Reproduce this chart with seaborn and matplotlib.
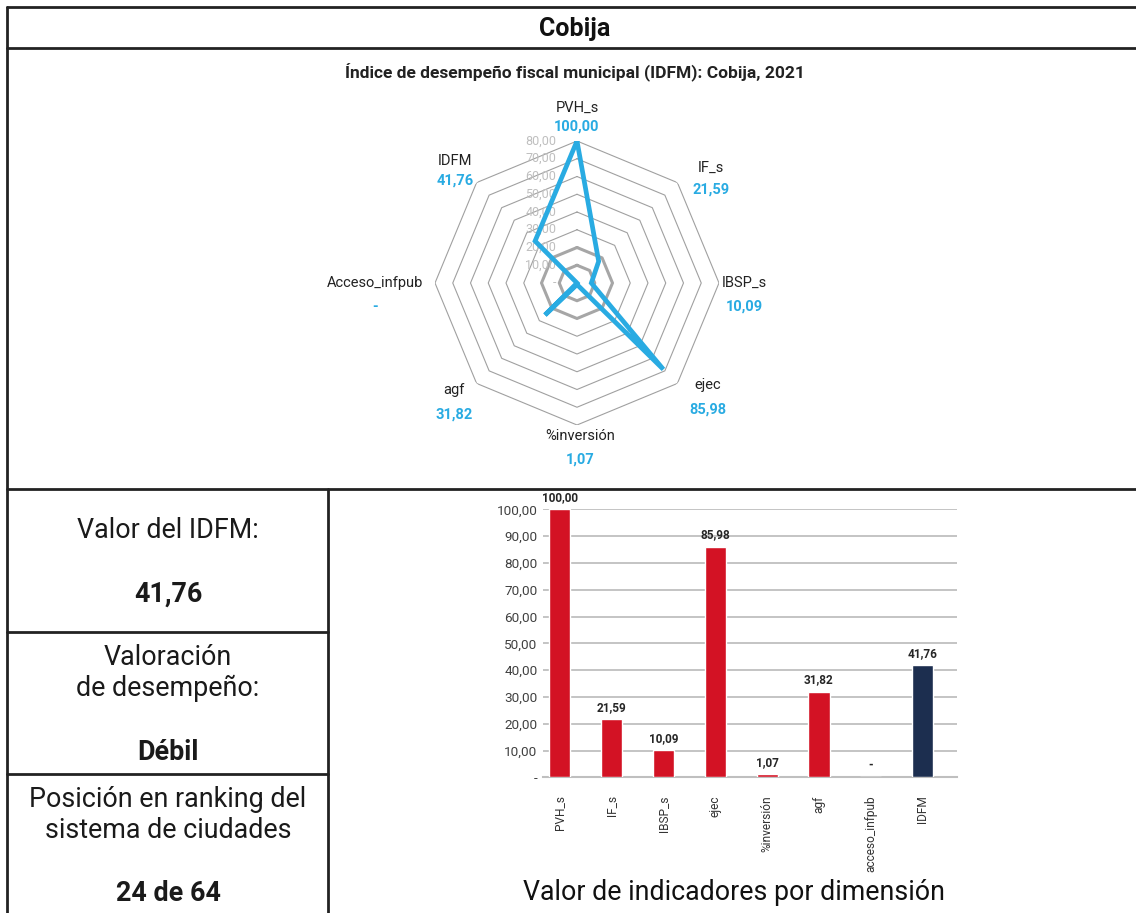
import numpy as np
import pandas as pd
import matplotlib
matplotlib.use("Agg")
import matplotlib.pyplot as plt
import matplotlib.transforms as mtransforms
import seaborn as sns

# ---------------- data ----------------
title = "Cobija"
radar_title = "Índice de desempeño fiscal municipal (IDFM): Cobija, 2021"
radar_categories = ["PVH_s", "IF_s", "IBSP_s", "ejec", "%inversión", "agf", "Acceso_infpub", "IDFM"]
radar_values = [100.00, 21.59, 10.09, 85.98, 1.07, 31.82, 0.0, 41.76]
radar_value_labels = ["100,00", "21,59", "10,09", "85,98", "1,07", "31,82", "-", "41,76"]
ring_labels = ["-", "10,00", "20,00", "30,00", "40,00", "50,00", "60,00", "70,00", "80,00"]

bar_categories = ["PVH_s", "IF_s", "IBSP_s", "ejec", "%inversión", "agf", "acceso_infpub", "IDFM"]
bar_values = [100.00, 21.59, 10.09, 85.98, 1.07, 31.82, 0.0, 41.76]
bar_value_labels = ["100,00", "21,59", "10,09", "85,98", "1,07", "31,82", "-", "41,76"]
bar_groups = ["dim", "dim", "dim", "dim", "dim", "dim", "dim", "idx"]
y_ticks = [0, 10, 20, 30, 40, 50, 60, 70, 80, 90, 100]
y_tick_labels = ["-", "10,00", "20,00", "30,00", "40,00", "50,00", "60,00", "70,00", "80,00", "90,00", "100,00"]
bar_title = "Valor de indicadores por dimensión"

idfm_label = "Valor del IDFM:"
idfm_value = "41,76"
rating_label = "Valoración\nde desempeño:"
rating_value = "Débil"
rank_label = "Posición en ranking del\nsistema de ciudades"
rank_value = "24 de 64"

# ---------------- style ----------------
sns.set_theme(style="white")
plt.rcParams["font.family"] = ["Roboto", "DejaVu Sans"]

W, H = 1136, 913
fig = plt.figure(figsize=(W / 100, H / 100), dpi=100)
fig.patch.set_facecolor("white")

def fx(px):
    return px / W

def fy(py):
    return 1 - py / H

BLUE = "#29ABE2"
RED = "#D31224"
NAVY = "#1C2E4F"
LINE = "#222222"

# ---------------- table borders ----------------
lw = 2.0
def hline(x0, x1, y):
    fig.add_artist(plt.Line2D([fx(x0), fx(x1)], [fy(y), fy(y)], color=LINE, lw=lw, transform=fig.transFigure))
def vline(x, y0, y1):
    fig.add_artist(plt.Line2D([fx(x), fx(x)], [fy(y0), fy(y1)], color=LINE, lw=lw, transform=fig.transFigure))

hline(7, W, 7)
hline(7, W, 48.5)
hline(7, W, 489)
hline(7, 328, 632)
hline(7, 328, 774)
vline(7, 7, H)
vline(328, 489, H)

# ---------------- titles ----------------
fig.text(fx(575), fy(29), title, ha="center", va="center", fontsize=18, fontweight="bold", color="#111111")
fig.text(fx(575), fy(73), radar_title, ha="center", va="center", fontsize=12.5, fontweight="bold", color="#222222")

# ---------------- radar ----------------
cx, cy, R = 577, 283, 142
rax = fig.add_axes([fx(cx - R), fy(cy + R), fx(2 * R), (2 * R) / H], projection="polar")
rax.set_theta_zero_location("N")
rax.set_theta_direction(-1)
rax.set_ylim(0, 100)
rax.grid(False)
rax.spines["polar"].set_visible(False)
rax.set_xticks([])
rax.set_yticks([])
rax.patch.set_alpha(0)

n = len(radar_categories)
theta = np.arange(n) * 2 * np.pi / n
theta_c = np.append(theta, theta[0])
ring_r = np.linspace(0, 100, len(ring_labels))
for i, r in enumerate(ring_r[1:], start=1):
    if i <= 2:
        rax.plot(theta_c, [r] * (n + 1), color="#A6A6A6", lw=2.2, zorder=2)
    else:
        rax.plot(theta_c, [r] * (n + 1), color="#A0A0A0", lw=0.8, zorder=1)

vals_c = np.append(radar_values, radar_values[0])
rax.plot(theta_c, vals_c, color=BLUE, lw=3.4, zorder=4, solid_joinstyle="miter")

off = mtransforms.offset_copy(rax.transData, fig=fig, x=-15, y=0, units="points")
for r, lab in zip(ring_r, ring_labels):
    rax.text(0, r, lab, transform=off, ha="right", va="center", fontsize=9, color="#BFBFBF", zorder=3)

label_pos = [(577, 108), (711, 168), (744, 283), (708, 385), (580, 436), (454, 390), (375, 283), (455, 161)]
val_dy = [19, 22, 24, 25, 24, 25, 24, 20]
for (px, py), cat, vl, dy in zip(label_pos, radar_categories, radar_value_labels, val_dy):
    fig.text(fx(px), fy(py), cat, ha="center", va="center", fontsize=10.5, color="#222222")
    fig.text(fx(px), fy(py + dy), vl, ha="center", va="center", fontsize=10.5, fontweight="bold", color=BLUE)

# ---------------- bar chart ----------------
bx0, bx1, by0, by1 = 543, 957, 509.3, 777.3
bax = fig.add_axes([fx(bx0), fy(by1), fx(bx1 - bx0), (by1 - by0) / H])
df = pd.DataFrame({"cat": bar_categories, "val": bar_values, "grp": bar_groups})
sns.barplot(data=df, x="cat", y="val", hue="grp", palette={"dim": RED, "idx": NAVY},
            dodge=False, width=0.405, legend=False, ax=bax, saturation=1, zorder=3)
bax.set_xlim(-0.32, 7.66)
bax.set_ylim(0, 100)
bax.set_yticks(y_ticks)
bax.set_yticklabels(y_tick_labels, fontsize=9.7, color="#404040")
bax.tick_params(axis="y", length=0, pad=4)
bax.set_xticks(range(len(bar_categories)))
bax.set_xticklabels(bar_categories, rotation=90, fontsize=8.6, color="#333333", va="top")
bax.tick_params(axis="x", length=0, pad=13)
bax.set_xlabel("")
bax.set_ylabel("")
for s in ["top", "right", "left"]:
    bax.spines[s].set_visible(False)
bax.spines["bottom"].set_color("#BFBFBF")
bax.spines["bottom"].set_linewidth(1.5)
bax.yaxis.grid(True, color="#BFBFBF", lw=1.3, zorder=0)
bax.set_axisbelow(True)
bax.patch.set_alpha(0)
for i, (v, lab) in enumerate(zip(bar_values, bar_value_labels)):
    bax.annotate(lab, (i, v), xytext=(0, 4), textcoords="offset points", ha="center", va="bottom",
                 fontsize=8.5, fontweight="bold", color="#262626", annotation_clip=False)

fig.text(fx(734), fy(892), bar_title, ha="center", va="center", fontsize=19.3, color="#111111")

# ---------------- left column ----------------
fs = 19.4
fig.text(fx(168), fy(531), idfm_label, ha="center", va="center", fontsize=fs, color="#1a1a1a")
fig.text(fx(168), fy(594), idfm_value, ha="center", va="center", fontsize=fs, fontweight="bold", color="#1a1a1a")
fig.text(fx(168), fy(673), rating_label, ha="center", va="center", fontsize=fs, color="#1a1a1a", linespacing=1.22)
fig.text(fx(168), fy(752), rating_value, ha="center", va="center", fontsize=fs, fontweight="bold", color="#1a1a1a")
fig.text(fx(168), fy(815), rank_label, ha="center", va="center", fontsize=fs, color="#1a1a1a", linespacing=1.22)
fig.text(fx(168), fy(893), rank_value, ha="center", va="center", fontsize=fs, fontweight="bold", color="#1a1a1a")

fig.savefig("out.png", dpi=100, facecolor="white")
